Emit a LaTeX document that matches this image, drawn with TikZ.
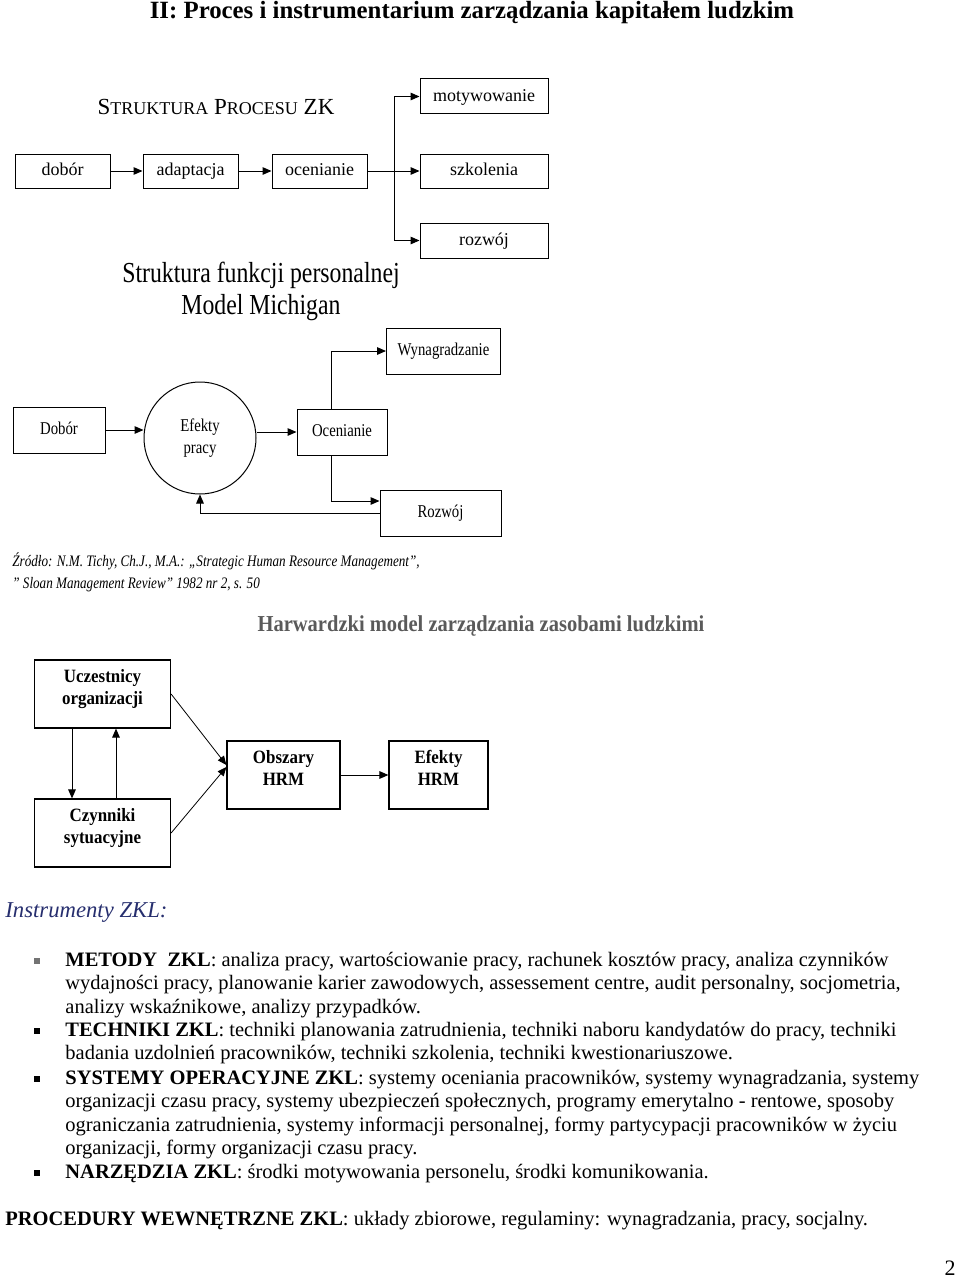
\documentclass[tikz,border=0pt]{standalone}
\usepackage{fontspec}
\setmainfont{Liberation Serif}
\newfontfamily\narrowrm[FakeStretch=0.82]{Liberation Serif}
\newfontfamily\slimrm[FakeStretch=0.9]{Liberation Serif}
\usetikzlibrary{arrows.meta,positioning}
\definecolor{navy}{RGB}{38,46,110}
\definecolor{titlegray}{RGB}{90,90,90}

\begin{document}
\begin{tikzpicture}[x=0.5pt,y=-0.5pt,
    box/.style={draw,line width=0.5pt,inner sep=0pt,align=center},
    procbox/.style={box,minimum width=47.5pt,minimum height=17pt,text height=0.7em,text depth=0.22em,font=\fontsize{9}{10}\selectfont},
    funbox/.style={box,minimum height=23pt,text height=0.7em,text depth=0.22em,font=\narrowrm\fontsize{9}{11}\selectfont},
    hrmbox/.style={box,line width=0.6pt,minimum height=34pt,text depth=7.5pt,font=\slimrm\bfseries\fontsize{9.4}{11}\selectfont},
    arr/.style={-{Triangle[length=4.5pt,width=3.8pt]},line width=0.5pt},
    bullettext/.style={anchor=base west,inner sep=0pt,align=left,font=\fontsize{10.25}{11.75}\selectfont},
    bulletmark/.style={fill,inner sep=0pt,minimum size=3pt}]
\useasboundingbox (0,0) rectangle (960,1279);

\node[font=\bfseries\fontsize{12.4}{14}\selectfont] (title) at (472,13) {II: Proces i instrumentarium zarządzania kapitałem ludzkim};

% struktura procesu
\node[font=\fontsize{11.5}{13}\selectfont] (sproc) at (216,107) {S{\fontsize{9}{10}\selectfont TRUKTURA} P{\fontsize{9}{10}\selectfont ROCESU} ZK};
\node[procbox] (dobor) at (62.5,171) {dobór};
\node[procbox] (adapt) at (190.5,171) {adaptacja};
\node[procbox] (ocen) at (319.5,171) {ocenianie};
\node[procbox,minimum width=64pt,minimum height=17.5pt] (motyw) at (484,96.5) {motywowanie};
\node[procbox,minimum width=64pt] (szkol) at (484,171) {szkolenia};
\node[procbox,minimum width=64pt,minimum height=17.5pt] (rozw) at (484,240.5) {rozwój};
\coordinate (split) at (394,171);
\draw[arr] (dobor) -- (adapt);
\draw[arr] (adapt) -- (ocen);
\draw[arr] (ocen) -- (szkol);
\draw[arr] (split) |- (motyw);
\draw[arr] (split) |- (rozw);

% model Michigan
\node[align=center,font=\narrowrm\fontsize{14.5}{16}\selectfont] (michigan) at (261,291) {Struktura funkcji personalnej\\Model Michigan};
\node[funbox,minimum width=46pt] (mdobor) at (59,430) {Dobór};
\node[draw,line width=0.5pt,circle,minimum size=56pt,inner sep=0pt,align=center,font=\narrowrm\fontsize{9}{11}\selectfont] (efpr) at (200,438) {Efekty\\pracy};
\node[funbox,minimum width=45pt] (mocen) at (342,432) {Ocenianie};
\node[funbox,minimum width=57pt] (wynag) at (443.5,351) {Wynagradzanie};
\node[funbox,minimum width=60.5pt] (mrozw) at (440.5,513) {Rozwój};
\draw[arr] (mdobor) -- (mdobor -| efpr.west);
\draw[arr] (efpr.east |- mocen) -- (mocen);
\draw[arr] ([xshift=-5.5pt]mocen.north) |- (wynag);
\draw[arr] ([xshift=-5.5pt]mocen.south) |- ([yshift=6pt]mrozw.west);
\draw[arr] (mrozw.west) -| (efpr.south);
\node[anchor=base west,inner sep=0pt,align=left,font=\narrowrm\itshape\fontsize{8}{11}\selectfont] (zrodlo) at (12,588) {Źródło: N.M. Tichy, Ch.J., M.A.: „Strategic Human Resource Management”,\\” Sloan Management Review” 1982 nr 2, s. 50};

% model harwardzki
\node[text=titlegray,font=\slimrm\bfseries\fontsize{11.4}{13}\selectfont] (harw) at (481,626) {Harwardzki model zarządzania zasobami ludzkimi};
\node[hrmbox,minimum width=68pt] (ucz) at (102.5,694) {Uczestnicy\\organizacji};
\node[hrmbox,minimum width=68pt] (czyn) at (102.5,833) {Czynniki\\sytuacyjne};
\node[hrmbox,minimum width=56.5pt] (obsz) at (283.5,775) {Obszary\\HRM};
\node[hrmbox,minimum width=49.5pt] (efhrm) at (438.5,775) {Efekty\\HRM};
\draw[arr] ([xshift=-15.25pt]ucz.south) -- ([xshift=-15.25pt]czyn.north);
\draw[arr] ([xshift=6.75pt]czyn.north) -- ([xshift=6.75pt]ucz.south);
\draw[arr,line width=0.4pt] (ucz.east) -- ([yshift=5pt]obsz.west);
\draw[arr,line width=0.4pt] (czyn.east) -- ([yshift=4pt]obsz.west);
\draw[arr] (obsz) -- (efhrm);

% instrumenty
\node[anchor=base west,inner sep=0pt,text=navy,font=\itshape\fontsize{11.35}{13}\selectfont] (instr) at (5,917) {Instrumenty ZKL:};
\node[bulletmark,black!55] (b1) at (37,961) {};
\node[bullettext] (metody) at (65,1013) {\textbf{METODY\ \ ZKL}: analiza pracy, wartościowanie pracy, rachunek kosztów pracy, analiza czynników\\wydajności pracy, planowanie karier zawodowych, assessement centre, audit personalny, socjometria,\\analizy wskaźnikowe, analizy przypadków.};
\node[bulletmark] (b2) at (37,1031) {};
\node[bullettext] (techniki) at (65,1059.5) {\textbf{TECHNIKI ZKL}: techniki planowania zatrudnienia, techniki naboru kandydatów do pracy, techniki\\badania uzdolnień pracowników, techniki szkolenia, techniki kwestionariuszowe.};
\node[bulletmark] (b3) at (37,1079) {};
\node[bullettext] (systemy) at (65,1154.5) {\textbf{SYSTEMY OPERACYJNE ZKL}: systemy oceniania pracowników, systemy wynagradzania, systemy\\organizacji czasu pracy, systemy ubezpieczeń społecznych, programy emerytalno - rentowe, sposoby\\ograniczania zatrudnienia, systemy informacji personalnej, formy partycypacji pracowników w życiu\\organizacji, formy organizacji czasu pracy.};
\node[bulletmark] (b4) at (37,1173) {};
\node[bullettext] (narz) at (65,1178) {\textbf{NARZĘDZIA ZKL}: środki motywowania personelu, środki komunikowania.};
\node[bullettext] (proc) at (5,1225) {\textbf{PROCEDURY WEWNĘTRZNE ZKL}: układy zbiorowe, regulaminy: wynagradzania, pracy, socjalny.};
\node[font=\fontsize{11}{13}\selectfont] (pnum) at (950,1268) {2};
\end{tikzpicture}
\end{document}
